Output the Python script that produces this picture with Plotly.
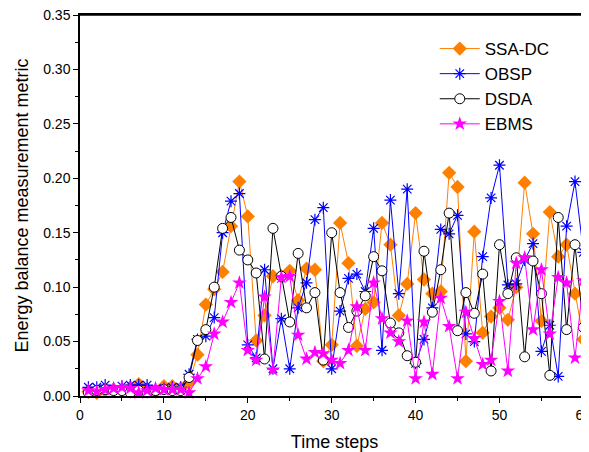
import plotly.graph_objects as go

steps = list(range(1, 61))

ssa_dc = [0.004, 0.003, 0.005, 0.006, 0.006, 0.008, 0.011, 0.006, 0.004, 0.009, 0.009, 0.007,
          0.012, 0.038, 0.084, 0.098, 0.114, 0.156, 0.197, 0.165, 0.051, 0.074, 0.110, 0.110,
          0.115, 0.088, 0.117, 0.116, 0.032, 0.047, 0.159, 0.122, 0.046, 0.080, 0.086, 0.159,
          0.139, 0.074, 0.103, 0.168, 0.107, 0.094, 0.096, 0.205, 0.192, 0.032, 0.151, 0.058,
          0.073, 0.081, 0.070, 0.100, 0.196, 0.149, 0.069, 0.169, 0.128, 0.139, 0.094, 0.052]

obsp = [0.008, 0.008, 0.010, 0.006, 0.009, 0.010, 0.010, 0.010, 0.006, 0.007, 0.008, 0.008,
        0.020, 0.052, 0.055, 0.072, 0.150, 0.179, 0.186, 0.047, 0.035, 0.116, 0.025, 0.071,
        0.025, 0.081, 0.104, 0.162, 0.173, 0.025, 0.078, 0.108, 0.112, 0.096, 0.154, 0.042,
        0.180, 0.094, 0.190, 0.030, 0.052, 0.081, 0.153, 0.149, 0.166, 0.057, 0.050, 0.128,
        0.182, 0.212, 0.102, 0.103, 0.125, 0.140, 0.041, 0.065, 0.018, 0.156, 0.197, 0.132]

dsda = [0.003, 0.005, 0.006, 0.005, 0.005, 0.003, 0.005, 0.003, 0.005, 0.006, 0.005, 0.005,
        0.017, 0.051, 0.061, 0.100, 0.154, 0.164, 0.134, 0.125, 0.113, 0.034, 0.154, 0.110,
        0.068, 0.131, 0.081, 0.095, 0.033, 0.150, 0.095, 0.063, 0.078, 0.092, 0.128, 0.115,
        0.067, 0.058, 0.037, 0.031, 0.133, 0.077, 0.116, 0.168, 0.060, 0.095, 0.076, 0.112,
        0.023, 0.139, 0.094, 0.127, 0.036, 0.124, 0.094, 0.019, 0.164, 0.061, 0.139, 0.063]

ebms = [0.005, 0.004, 0.006, 0.007, 0.008, 0.007, 0.003, 0.005, 0.007, 0.006, 0.006, 0.006,
        0.003, 0.016, 0.027, 0.057, 0.068, 0.086, 0.104, 0.042, 0.033, 0.091, 0.024, 0.109,
        0.110, 0.056, 0.034, 0.040, 0.039, 0.033, 0.030, 0.042, 0.082, 0.042, 0.104, 0.071,
        0.058, 0.050, 0.069, 0.016, 0.068, 0.020, 0.090, 0.064, 0.016, 0.077, 0.053, 0.029,
        0.033, 0.087, 0.023, 0.122, 0.127, 0.061, 0.116, 0.057, 0.109, 0.104, 0.035, 0.106]

x_ticks = [0, 10, 20, 30, 40, 50, 60]
y_ticks = [0.00, 0.05, 0.10, 0.15, 0.20, 0.25, 0.30, 0.35]

fig = go.Figure()

fig.add_trace(go.Scatter(
    x=steps, y=ssa_dc, name="SSA-DC", mode="lines+markers",
    line=dict(color="#FF8000", width=1),
    marker=dict(symbol="diamond", size=11, color="#FF8000", line=dict(width=0)),
    cliponaxis=False))
fig.add_trace(go.Scatter(
    x=steps, y=obsp, name="OBSP", mode="lines+markers",
    line=dict(color="#0000FF", width=1),
    marker=dict(symbol="asterisk-open", size=10, color="#0000FF", line=dict(width=1.2, color="#0000FF")),
    cliponaxis=False))
fig.add_trace(go.Scatter(
    x=steps, y=dsda, name="DSDA", mode="lines+markers",
    line=dict(color="#000000", width=1),
    marker=dict(symbol="circle", size=10, color="#FFFFFF", line=dict(width=1, color="#000000")),
    cliponaxis=False))
fig.add_trace(go.Scatter(
    x=steps, y=ebms, name="EBMS", mode="lines+markers",
    line=dict(color="#FF00FF", width=1),
    marker=dict(symbol="star", size=11, color="#FF00FF", line=dict(width=0)),
    cliponaxis=False))

# top frame line of the plot box
fig.add_shape(type="line", xref="paper", yref="paper", x0=-0.004, x1=1.0, y0=1, y1=1,
              line=dict(color="black", width=1.5), layer="above")

# the page body has an 8px margin, so the figure is offset by (8, 8)
fig.update_layout(
    width=581, height=444,
    margin=dict(l=72, r=0, t=7, b=56, autoexpand=False),
    paper_bgcolor="white", plot_bgcolor="white",
    font=dict(family="Liberation Sans, Arial, sans-serif", color="black", size=14),
    showlegend=True,
    legend=dict(x=0.697, y=0.958, xanchor="left", yanchor="top",
                bgcolor="rgba(0,0,0,0)", font=dict(size=17), tracegroupgap=0,
                itemwidth=40),
)

fig.update_xaxes(
    range=[0, 60.67], tickvals=x_ticks, ticktext=[str(v) for v in x_ticks],
    showgrid=False, zeroline=False, showline=True, linecolor="black", linewidth=1.5,
    mirror=True, ticks="outside", ticklen=5, tickwidth=1, tickcolor="black",
    minor=dict(dtick=5, ticks="outside", ticklen=3, tickcolor="black", tickwidth=1),
    title=dict(text="Time steps", font=dict(size=18), standoff=18),
    tickfont=dict(size=14), automargin=False, ticklabeloverflow="allow",
)
fig.update_yaxes(
    range=[0, 0.35], tickvals=y_ticks, ticktext=[f"{v:.2f}" for v in y_ticks],
    showgrid=False, zeroline=False, showline=True, linecolor="black", linewidth=1.5,
    mirror=False, ticks="outside", ticklen=5, tickwidth=1, tickcolor="black",
    minor=dict(dtick=0.025, ticks="outside", ticklen=3, tickcolor="black", tickwidth=1),
    title=dict(text="Energy balance measurement metric", font=dict(size=18), standoff=10),
    tickfont=dict(size=14), automargin=False, ticklabeloverflow="allow",
)

fig.write_html("out.html")
